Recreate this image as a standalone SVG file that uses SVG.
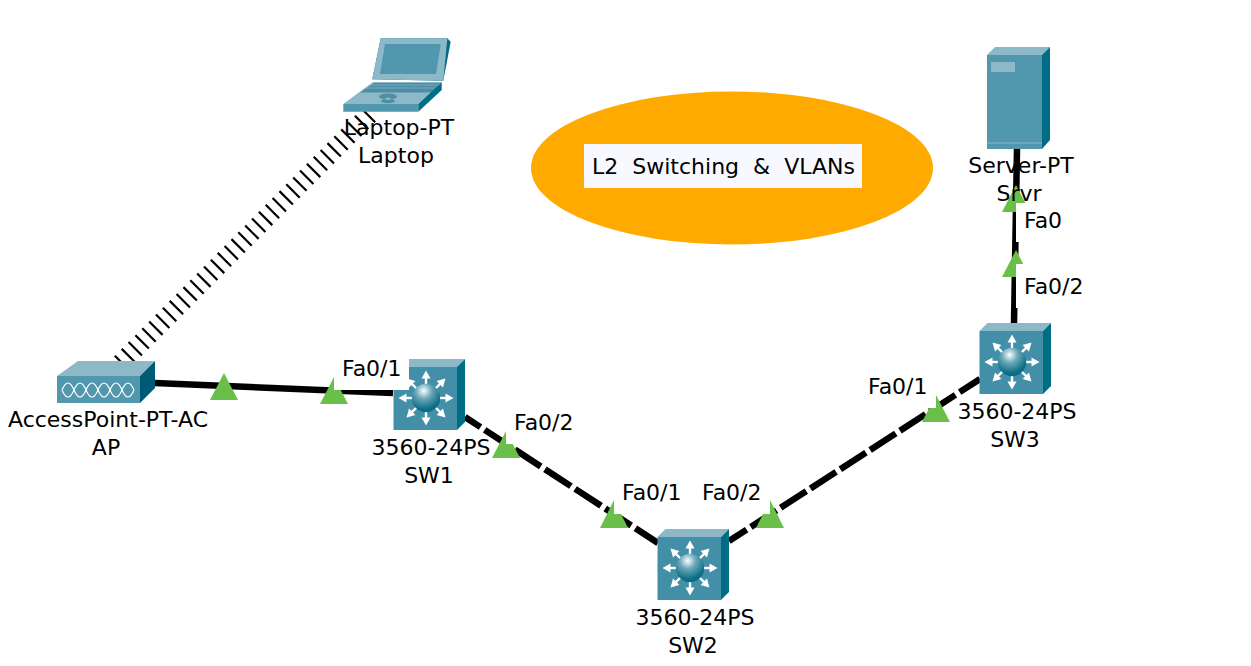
<svg xmlns="http://www.w3.org/2000/svg" width="1251" height="666" viewBox="0 0 1251 666">
<style>
text{font-family:"DejaVu Sans",sans-serif;font-size:22px;fill:#000;text-anchor:middle;dominant-baseline:central;white-space:pre}
.l{text-anchor:start}
.tri{fill:#6abf4b}
.bg{fill:#fff}
.link{stroke:#000;stroke-width:6.500;fill:none}
</style>
<defs>
<radialGradient id="ball" cx="0.42" cy="0.25" r="0.8"><stop offset="0" stop-color="#ffffff"/><stop offset="0.35" stop-color="#6aa8b9"/><stop offset="0.8" stop-color="#0e6e85"/><stop offset="1" stop-color="#0b6a80"/></radialGradient>
<g id="arrow"><path d="M-1.200 -12H1.200V-21H-1.200Z" fill="#fff"/><path d="M-4.500 -19.500 0 -27.500 4.500 -19.500Z" fill="#fff"/></g>
<g id="sw">
<path d="M0 0 8 -8H71.500L63.500 0Z" fill="#8cb8c8"/>
<path d="M63.500 0 71.500 -8V55L63.500 63Z" fill="#006d87"/>
<rect width="63.500" height="63" fill="#438fa8"/>
<g transform="translate(32.500 31)">
<use href="#arrow"/><use href="#arrow" transform="rotate(45)"/><use href="#arrow" transform="rotate(90)"/><use href="#arrow" transform="rotate(135)"/><use href="#arrow" transform="rotate(180)"/><use href="#arrow" transform="rotate(225)"/><use href="#arrow" transform="rotate(270)"/><use href="#arrow" transform="rotate(315)"/>
<circle r="14.200" fill="url(#ball)"/>
</g>
</g>
<clipPath id="srvrclip"><rect x="960" y="170" width="120" height="31"/></clipPath>
</defs>
<rect width="1251" height="666" fill="#fff"/>
<g id="note">
<ellipse cx="732" cy="168" rx="201" ry="76.500" fill="#ffaa00"/>
<rect x="584" y="144" width="278" height="44" fill="#f8f9fe"/>
<text x="723.500" y="166" xml:space="preserve">L2  Switching  &amp;  VLANs</text>
</g>
<g id="connectors">
<line x1="112" y1="372" x2="372" y2="112" stroke="#000" stroke-width="19" stroke-dasharray="2.200 7.500" stroke-dashoffset="-2.700"/>
<line class="link" x1="155" y1="383" x2="393" y2="393"/>
<line class="link" x1="465" y1="417" x2="658" y2="543" stroke-dasharray="31 5" stroke-dashoffset="12.500"/>
<line class="link" x1="729" y1="541" x2="980" y2="379" stroke-dasharray="30.500 5" stroke-dashoffset="9.500"/>
<line class="link" x1="1017" y1="149" x2="1014" y2="323"/>
</g>
<g id="port-markers">
<path class="tri" d="M224 373 238 400H210Z"/>
<path class="tri" d="M334 377 348 404H320Z"/>
<path class="tri" d="M506 431 520 458H492Z"/>
<path class="tri" d="M614 500 628 528H600Z"/>
<path class="tri" d="M770 500 784 528H756Z"/>
<path class="tri" d="M936 395 950 422H922Z"/>
<path class="tri" d="M1016 185 1030 212H1002Z"/>
<path class="tri" d="M1016 250 1030 277H1002Z"/>
</g>
<g id="laptop">
<path d="M372.300 79.300 380.700 38.300H447.300L450.700 41.700 443.300 80.700Z" fill="#006d87"/>
<path d="M372.300 79.300 380.700 38.300H447.300L443.300 80.700Z" fill="#8cb8c8"/>
<path d="M380 74 385 44H440.700L436 74Z" fill="#5197ae"/>
<path d="M343.300 104 373 82H441.700L418.300 104Z" fill="#8cb8c8"/>
<path d="M360 92.500 374 83H440L431 92.500Z" fill="#4e8ea5"/>
<path d="M366 88H436M371 85H439" stroke="#8cb8c8" stroke-width="0.700" fill="none"/>
<path d="M343.300 104H418.300V111.700H343.300Z" fill="#5197ae"/>
<path d="M418.300 104 441.700 82V90L418.300 111.700Z" fill="#006d87"/>
<ellipse cx="388" cy="96.500" rx="9" ry="3" fill="#4e8ea5"/>
<ellipse cx="388" cy="101" rx="7" ry="2.200" fill="#4e8ea5"/>
<ellipse cx="388" cy="98.800" rx="3" ry="1.300" fill="#8cb8c8"/>
<text x="399" y="127">Laptop-PT</text>
<text x="396" y="155">Laptop</text>
</g>
<g id="server">
<path d="M987 55 995 47H1050L1042 55Z" fill="#8cb8c8"/>
<path d="M1042 55 1050 47V140L1042 149Z" fill="#006d87"/>
<rect x="987" y="55" width="55" height="94" fill="#5197ae"/>
<rect x="991" y="62" width="24" height="10" fill="#8cb8c8"/>
<line x1="987" y1="143" x2="1042" y2="143" stroke="#8cb8c8" stroke-width="1"/>
<text x="1021" y="165">Server-PT</text>
<text x="1019" y="193" clip-path="url(#srvrclip)">Srvr</text>
</g>
<g id="ap">
<path d="M57 376 78 361H155L140 376Z" fill="#8cb8c8"/>
<path d="M140 376 155 361V388L140 403Z" fill="#005a75"/>
<rect x="57" y="376" width="83" height="27" fill="#5197ae"/>
<path d="M62 390Q68 376 74 390T86 390T98 390T110 390T122 390T134 390M62 390Q68 404 74 390T86 390T98 390T110 390T122 390T134 390" fill="none" stroke="#fff" stroke-width="1.200"/>
<text x="108" y="419">AccessPoint-PT-AC</text>
<text x="106" y="447">AP</text>
</g>
<g id="SW1"><use href="#sw" x="393.500" y="367"/><text x="431" y="447">3560-24PS</text><text x="429" y="475">SW1</text></g>
<g id="SW2"><use href="#sw" x="657.500" y="537"/><text x="695" y="617">3560-24PS</text><text x="693" y="645">SW2</text></g>
<g id="SW3"><use href="#sw" x="979.500" y="331"/><text x="1017" y="411">3560-24PS</text><text x="1015" y="439">SW3</text></g>
<g id="port-labels">
<rect class="bg" x="334" y="346" width="75" height="44"/>
<rect class="bg" x="506" y="400" width="75" height="44"/>
<rect class="bg" x="614" y="470" width="75" height="44"/>
<rect class="bg" x="694" y="470" width="76" height="44"/>
<rect class="bg" x="860" y="364" width="76" height="44"/>
<rect class="bg" x="1016" y="203" width="54" height="39"/>
<rect class="bg" x="1016" y="264" width="75" height="44"/>
<text class="l" x="342" y="368">Fa0/1</text>
<text class="l" x="514" y="422">Fa0/2</text>
<text class="l" x="622" y="492">Fa0/1</text>
<text class="l" x="702" y="492">Fa0/2</text>
<text class="l" x="868" y="386">Fa0/1</text>
<text class="l" x="1024" y="220">Fa0</text>
<text class="l" x="1024" y="286">Fa0/2</text>
</g>
</svg>
